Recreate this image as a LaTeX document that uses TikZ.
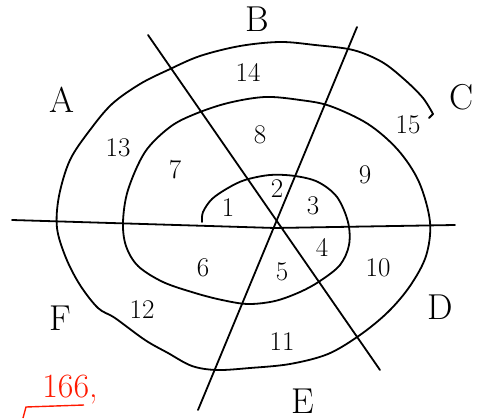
\documentclass[tikz,border=0pt]{standalone}
\usepackage{tikz}
\tikzset{
  pen/.style={draw, line width=1.8pt, line cap=round, line join=round},
  lbl/.style={font=\fontsize{36}{38}\selectfont, inner sep=0pt},
  num/.style={font=\fontsize{27}{29}\selectfont, inner sep=0pt},
}

\begin{document}
\begin{tikzpicture}[x=1pt, y=-1pt]
\useasboundingbox (0,0) rectangle (481,419);

% line ends
\coordinate (h1) at (12,220);
\coordinate (h2) at (455,225);
\coordinate (b1) at (148,35);
\coordinate (b2) at (380,370);
\coordinate (c1) at (357,27);
\coordinate (c2) at (198,410);

\draw[pen] (h1) -- (275,228) -- (h2);
\draw[pen] (b1) -- (b2);
\draw[pen] (c1) -- (c2);

% spiral
\draw[pen] plot[smooth, tension=0.55] coordinates {
  (202,222) (203,212) (212,199) (228,188) (245,180) (270,175) (295,176)
  (318,182) (337,197) (348,222) (349,245) (340,265) (320,281) (300,292)
  (275,301) (248,304) (222,300) (195,293) (163,282) (138,266) (126,246)
  (123,222) (128,190) (145,152) (170,127) (195,114) (228,103) (265,97)
  (300,100) (330,106) (368,124) (398,150) (419,182) (430,222) (426,256)
  (410,286) (388,312) (360,335) (328,354) (290,364) (250,368) (217,370)
  (192,366) (168,353) (145,340) (115,318) (98,308) (80,285) (66,258)
  (57,228) (59,196) (70,160) (90,130) (112,104) (140,84) (168,70)
  (200,56) (240,46) (280,42) (315,45) (353,50) (382,62) (405,80)
  (423,98) (433,114)
};
\draw[pen] (433,114) -- (429,118);

% outer letters
\node[lbl] (A) at (62,100) {A};
\node[lbl] (B) at (257,19) {B};
\node[lbl] (C) at (462,97) {C};
\node[lbl] (D) at (440,307) {D};
\node[lbl] (E) at (303,401) {E};
\node[lbl] (F) at (60,318) {F};

% regions
\node[num] (n1)  at (228,208) {1};
\node[num] (n2)  at (277,189) {2};
\node[num] (n3)  at (313,206) {3};
\node[num] (n4)  at (322,247) {4};
\node[num] (n5)  at (282,272) {5};
\node[num] (n6)  at (203,268) {6};
\node[num] (n7)  at (175,170) {7};
\node[num] (n8)  at (260,135) {8};
\node[num] (n9)  at (365,175) {9};
\node[num] (n10) at (378,268) {10};
\node[num] (n11) at (282,342) {11};
\node[num] (n12) at (142,310) {12};
\node[num] (n13) at (118,148) {13};
\node[num] (n14) at (248,72)  {14};
\node[num] (n15) at (408,125) {15};

% page mark
\node[num, text=red!80!orange, font=\fontsize{34}{36}\selectfont] (pg) at (70,390) {166,};
\draw[line width=1.4pt, red!80!orange] (23,418) -- (26,407) -- (84,405);
\end{tikzpicture}
\end{document}
